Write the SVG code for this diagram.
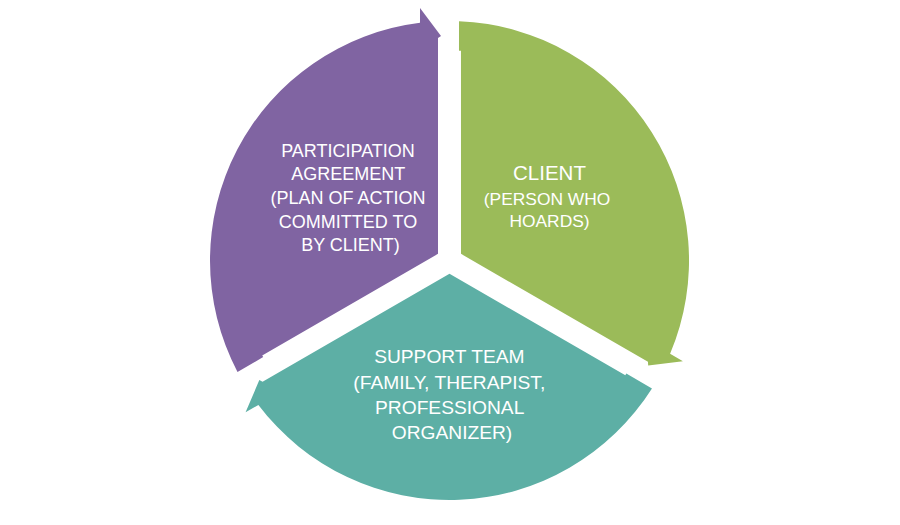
<svg xmlns="http://www.w3.org/2000/svg" width="900" height="525" viewBox="0 0 900 525">
  <style>
    .lbl { font-family: "Liberation Sans", Arial, sans-serif; fill: #ffffff; text-anchor: middle; }
  </style>
  <defs>
    <path id="seg" d="M -11.5,-6.64 L -187.3,94.9 L -186.3,96.6 L -212.0,111.4 A 239.5 239.5 0 0 1 -29.5,-237.7 L -29.5,-252.5 L -8.5,-224.5 L -11.5,-222.5 Z"/>
  </defs>
  <rect width="900" height="525" fill="#ffffff"/>
  <g id="node-participation">
    <use href="#seg" transform="translate(449.5 260.5)" fill="#8064A2"/>
    <text class="lbl" font-size="18" x="350.5">
      <tspan x="350.5" y="156.7">PARTICIPATION</tspan>
      <tspan x="350.5" y="180.3">AGREEMENT</tspan>
      <tspan x="350.5" y="204">(PLAN OF ACTION</tspan>
      <tspan x="350.5" y="227.6">COMMITTED TO</tspan>
      <tspan x="350.5" y="251.2">BY CLIENT)</tspan>
    </text>
  </g>
  <g id="node-client">
    <use href="#seg" transform="translate(449.5 260.5) rotate(120)" fill="#9BBB59"/>
    <text class="lbl" font-size="20.5" x="549.5" y="180">CLIENT</text>
    <text class="lbl" font-size="17.4" x="549.5">
      <tspan x="549.5" y="205">(PERSON WHO</tspan>
      <tspan x="549.5" y="227">HOARDS)</tspan>
    </text>
  </g>
  <g id="node-support">
    <use href="#seg" transform="translate(449.5 260.5) rotate(240)" fill="#5DAFA5"/>
    <text class="lbl" font-size="19.2" x="452">
      <tspan x="452" y="363">SUPPORT TEAM</tspan>
      <tspan x="452" y="388.5">(FAMILY, THERAPIST,</tspan>
      <tspan x="452" y="414">PROFESSIONAL</tspan>
      <tspan x="452" y="439">ORGANIZER)</tspan>
    </text>
  </g>
  <g id="connectors"/>
</svg>
